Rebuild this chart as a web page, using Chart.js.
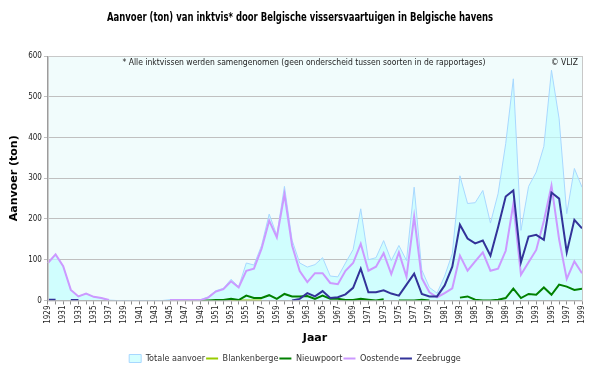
<!DOCTYPE html>
<html>
<head>
<meta charset="utf-8">
<script src="https://cdn.jsdelivr.net/npm/chart.js@4/dist/chart.umd.min.js"></script>
<style>
  body { margin: 0; background: #fff; }
  #wrap { width: 600px; height: 368px; }
</style>
</head>
<body>
<div id="wrap"><canvas id="chart"></canvas></div>
<script>
// years 1929 - 1999
const years = [];
for (let y = 1929; y <= 1999; y++) years.push(String(y));

const totaal = [92, 113, 84, 26, 10, 17, 9, 6, 1, 0, 0, 0, 0, 0, 0, 0, 2, 2, 2, 2,
  2, 9, 24, 30, 52, 34, 92, 87, 135, 212, 160, 280, 148, 92, 82, 88, 105, 60, 58, 92,
  125, 225, 100, 105, 147, 98, 135, 98, 278, 75, 32, 18, 60, 115, 306, 238, 240, 270, 190, 262,
  385, 544, 172, 280, 315, 378, 565, 446, 213, 324, 278];

const blankenberge = [null, null, null, null, null, null, null, null, null, null, null, null, null, null, null, null, null, null, null, null,
  null, null, null, null, 0, 0, 0, 0, 0, null, null, null, null, null, null, null, null, null, null, null,
  null, null, null, null, null, null, null, null, null, null, null, null, null, null, null, null, null, null, null, null,
  null, null, null, null, null, null, null, null, null, null, null];

const nieuwpoort = [null, null, null, null, null, null, null, null, null, null, null, null, null, null, null, null, null, null, null, null,
  0, 0, 1, 1, 4, 1, 12, 6, 6, 13, 4, 16, 10, 10, 11, 4, 12, 4, 4, 1,
  1, 4, 2, 0, 3, null, 0, 0, 0, 2, 0, null, null, null, 7, 10, 2, 0, 0, 2,
  6, 29, 6, 16, 14, 32, 14, 39, 34, 26, 29];

const oostende = [92, 113, 84, 26, 10, 17, 9, 6, 1, null, null, null, null, null, null, null, 1, 1, 1, 1,
  1, 7, 22, 28, 47, 32, 73, 78, 127, 196, 155, 261, 135, 72, 45, 67, 67, 43, 40, 73,
  92, 139, 73, 83, 116, 65, 118, 58, 206, 55, 20, 8, 18, 30, 110, 73, 96, 118, 73, 78,
  122, 237, 63, 94, 124, 195, 282, 150, 53, 96, 67];

const zeebrugge = [2, 2, null, 1, 1, null, null, null, null, null, null, null, null, null, null, null, null, null, null, null,
  null, null, null, null, null, null, null, null, null, null, null, null, 0, 4, 18, 10, 23, 6, 8, 15,
  31, 78, 20, 20, 25, 17, 12, 39, 66, 16, 10, 10, 37, 83, 186, 152, 140, 147, 110, 180,
  255, 270, 94, 157, 161, 149, 265, 250, 118, 198, 177];

const titleText = "Aanvoer (ton) van inktvis* door Belgische vissersvaartuigen in Belgische havens";
const smallFont = "'DejaVu Sans Condensed', 'DejaVu Sans', sans-serif";

const ctx = document.getElementById("chart").getContext("2d");

// plot background, frame, title and notes
const plotArea = {
  id: "plotArea",
  beforeDraw(chart) {
    const { ctx, chartArea: a } = chart;
    ctx.save();
    ctx.fillStyle = "#f1fcfc";
    ctx.fillRect(a.left, a.top, a.width, a.height);
    ctx.restore();
  },
  afterDraw(chart) {
    const { ctx, chartArea: a } = chart;
    ctx.save();
    ctx.strokeStyle = "#c8c8c8";
    ctx.lineWidth = 1;
    ctx.strokeRect(a.left + 0.5, a.top + 0.5, a.width, a.height);
    // title, squeezed to the width of the original
    ctx.fillStyle = "#000";
    ctx.font = "bold 13px 'DejaVu Sans', sans-serif";
    ctx.textBaseline = "middle";
    ctx.textAlign = "center";
    ctx.fillText(titleText, 300, 18, 386);
    ctx.fillStyle = "#222";
    ctx.font = "8.5px " + smallFont;
    ctx.textBaseline = "top";
    ctx.fillText("* Alle inktvissen werden samengenomen (geen onderscheid tussen soorten in de rapportages)", 304, a.top + 3);
    ctx.textAlign = "right";
    ctx.fillText("© VLIZ", a.right - 4, a.top + 3);
    ctx.restore();
  },
};

const chart = new Chart(ctx, {
  type: "line",
  data: {
    labels: years,
    datasets: [
      {
        label: "Zeebrugge",
        data: zeebrugge,
        borderColor: "#333399",
        backgroundColor: "#333399",
        borderWidth: 2,
        pointRadius: 0,
        pointStyle: "line",
        order: 1,
      },
      {
        label: "Oostende",
        data: oostende,
        borderColor: "#cc99ff",
        backgroundColor: "#cc99ff",
        borderWidth: 2,
        pointRadius: 0,
        pointStyle: "line",
        order: 2,
      },
      {
        label: "Nieuwpoort",
        data: nieuwpoort,
        borderColor: "#008000",
        backgroundColor: "#008000",
        borderWidth: 2,
        pointRadius: 0,
        pointStyle: "line",
        order: 3,
      },
      {
        label: "Blankenberge",
        data: blankenberge,
        borderColor: "#99cc00",
        backgroundColor: "#99cc00",
        borderWidth: 2,
        pointRadius: 0,
        pointStyle: "line",
        order: 4,
      },
      {
        label: "Totale aanvoer",
        data: totaal,
        borderColor: "#a8d8ff",
        backgroundColor: "rgba(190, 255, 255, 0.65)",
        borderWidth: 1,
        fill: "origin",
        pointRadius: 0,
        pointStyle: "rect",
        order: 5,
      },
    ],
  },
  plugins: [plotArea],
  options: {
    responsive: true,
    maintainAspectRatio: false,
    animation: false,
    layout: { padding: { left: 8, right: 18, top: 56, bottom: -5 } },
    scales: {
      x: {
        grid: { display: true, drawOnChartArea: false, tickLength: 4, color: "#888" },
        border: { color: "#999" },
        ticks: {
          autoSkip: false,
          maxRotation: 90,
          minRotation: 90,
          padding: 1,
          color: "#222",
          font: { size: 8, family: smallFont },
          callback: function (val, i) {
            return i % 2 === 0 ? this.getLabelForValue(val) : "";
          },
        },
        title: {
          display: true,
          text: "Jaar",
          color: "#000",
          padding: { top: 7, bottom: 8 },
          font: { size: 11, weight: "bold", family: "'DejaVu Sans', sans-serif" },
        },
      },
      y: {
        min: 0,
        max: 600,
        grid: { color: "#c0c0c0", tickLength: 4 },
        border: { color: "#999" },
        ticks: {
          stepSize: 100,
          padding: 2,
          color: "#222",
          font: { size: 8, family: smallFont },
        },
        title: {
          display: true,
          text: "Aanvoer (ton)",
          color: "#000",
          padding: { top: 0, bottom: 5 },
          font: { size: 11, weight: "bold", family: "'DejaVu Sans', sans-serif" },
        },
      },
    },
    plugins: {
      title: { display: false },
      legend: {
        position: "bottom",
        reverse: true,
        labels: {
          usePointStyle: true,
          pointStyleWidth: 12,
          boxHeight: 8,
          padding: 1,
          color: "#333",
          font: { size: 9, family: smallFont },
        },
      },
      tooltip: { enabled: false },
    },
  },
});
</script>
</body>
</html>
